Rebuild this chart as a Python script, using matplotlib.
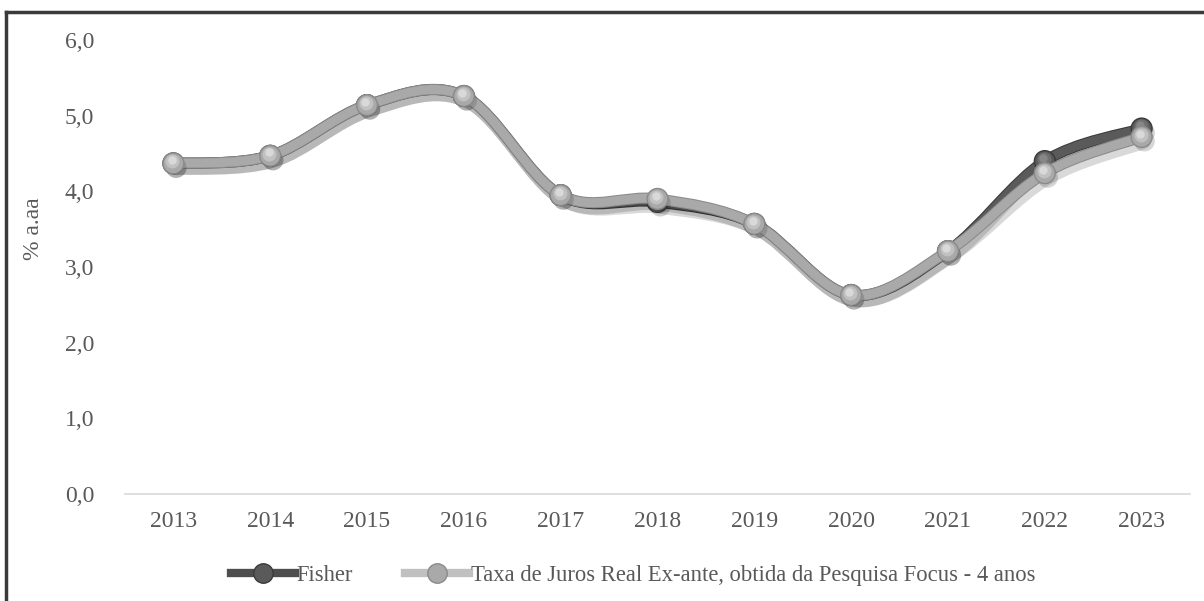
import numpy as np
import matplotlib
matplotlib.use("Agg")
import matplotlib.pyplot as plt
import matplotlib.patheffects as pe
from matplotlib.path import Path
from matplotlib.patches import PathPatch
from matplotlib.lines import Line2D
import matplotlib.transforms as mtransforms

years = ["2013", "2014", "2015", "2016", "2017", "2018", "2019", "2020", "2021", "2022", "2023"]
fisher = [4.37, 4.47, 5.14, 5.26, 3.95, 3.86, 3.57, 2.63, 3.21, 4.40, 4.83]
focus = [4.37, 4.47, 5.14, 5.26, 3.95, 3.90, 3.57, 2.63, 3.21, 4.24, 4.72]
yticks = [0, 1, 2, 3, 4, 5, 6]

label_fisher = "Fisher"
label_focus = "Taxa de Juros Real Ex-ante, obtida da Pesquisa Focus - 4 anos"

plt.rcParams["font.family"] = ["Liberation Serif", "DejaVu Serif"]
FS = 17
TXT = "#595959"


def smooth_path(xs, ys):
    # Excel-style smoothed line: cubic bezier through each point (Catmull-Rom)
    xs = np.asarray(xs, float)
    ys = np.asarray(ys, float)
    n = len(xs)
    verts = [(xs[0], ys[0])]
    codes = [Path.MOVETO]
    for i in range(n - 1):
        p0 = i - 1 if i > 0 else i
        p3 = i + 2 if i + 2 < n else i + 1
        c1 = (xs[i] + (xs[i + 1] - xs[p0]) / 6, ys[i] + (ys[i + 1] - ys[p0]) / 6)
        c2 = (xs[i + 1] - (xs[p3] - xs[i]) / 6, ys[i + 1] - (ys[p3] - ys[i]) / 6)
        verts += [c1, c2, (xs[i + 1], ys[i + 1])]
        codes += [Path.CURVE4] * 3
    return Path(verts, codes)


fig = plt.figure(figsize=(12.04, 6.01), dpi=100)
ax = fig.add_axes([0.1038, 0.178, 0.8846, 0.7554])

x = np.arange(len(years))

series = [
    (fisher, "#5a5a5a", "#3a3a3a", "#9a9a9a", 3),
    (focus, "#a9a9a9", "#8a8a8a", "#eeeeee", 4),
]
for vals, col, edge, hi, z in series:
    patch = PathPatch(smooth_path(x, vals), facecolor="none", edgecolor=col,
                      linewidth=6.5, capstyle="round", zorder=z)
    patch.set_path_effects([
        pe.SimpleLineShadow(offset=(2, -4), shadow_color="k", alpha=0.15, linewidth=9),
        pe.Stroke(linewidth=8, foreground=edge),
        pe.Normal(),
    ])
    ax.add_patch(patch)
    ax.plot(x, vals, linestyle="none", marker="o", markersize=15,
            markerfacecolor=col, markeredgecolor=edge, markeredgewidth=1,
            zorder=z + 0.1,
            path_effects=[pe.SimplePatchShadow(offset=(2, -3), alpha=0.2), pe.Normal()])
    # soft highlight so the markers look like small spheres
    for ms, dx, dy, a in [(10, -0.8, 1.5, 0.35), (6, -1.2, 2.4, 0.55)]:
        hl = mtransforms.offset_copy(ax.transData, fig=fig, x=dx, y=dy, units="points")
        ax.plot(x, vals, linestyle="none", marker="o", markersize=ms,
                markerfacecolor=hi, markeredgecolor="none", alpha=a,
                transform=hl, zorder=z + 0.2)

ax.set_xlim(-0.5, len(years) - 0.5)
ax.set_ylim(0, 6)
ax.set_xticks(x)
ax.set_xticklabels(years, fontsize=FS, color=TXT)
ax.set_yticks(yticks)
ax.set_yticklabels([f"{v:.1f}".replace(".", ",") for v in yticks], fontsize=FS, color=TXT)
ax.tick_params(length=0)
ax.tick_params(axis="x", pad=12)
ax.tick_params(axis="y", pad=22)
for s in ["top", "right", "left"]:
    ax.spines[s].set_visible(False)
ax.spines["bottom"].set_color("#d9d9d9")
ax.spines["bottom"].set_linewidth(1.2)

fig.text(0.028, 0.62, "% a.aa", rotation=90, fontsize=FS, color=TXT,
         ha="center", va="center")

handles = [
    Line2D([], [], color="#4e4e4e", linewidth=6, marker="o", markersize=14,
           markerfacecolor="#5a5a5a", markeredgecolor="#3a3a3a"),
    Line2D([], [], color="#c0c0c0", linewidth=6, marker="o", markersize=14,
           markerfacecolor="#a9a9a9", markeredgecolor="#8a8a8a"),
]
fig.legend(handles, [label_fisher, label_focus], loc="center",
           bbox_to_anchor=(0.526, 0.043), ncol=2, frameon=False, fontsize=16.3,
           handlelength=2.8, handletextpad=0.1, columnspacing=2.3,
           labelcolor=TXT)

# outer frame (only top and left edges are inside the picture)
fig.add_artist(Line2D([0.005, 1.0], [0.980, 0.980], color="#3a3a3a",
                      linewidth=2.5, transform=fig.transFigure))
fig.add_artist(Line2D([0.005, 0.005], [0.0, 0.980], color="#3a3a3a",
                      linewidth=2.5, transform=fig.transFigure))

fig.savefig("out.png", dpi=100, facecolor="white")
